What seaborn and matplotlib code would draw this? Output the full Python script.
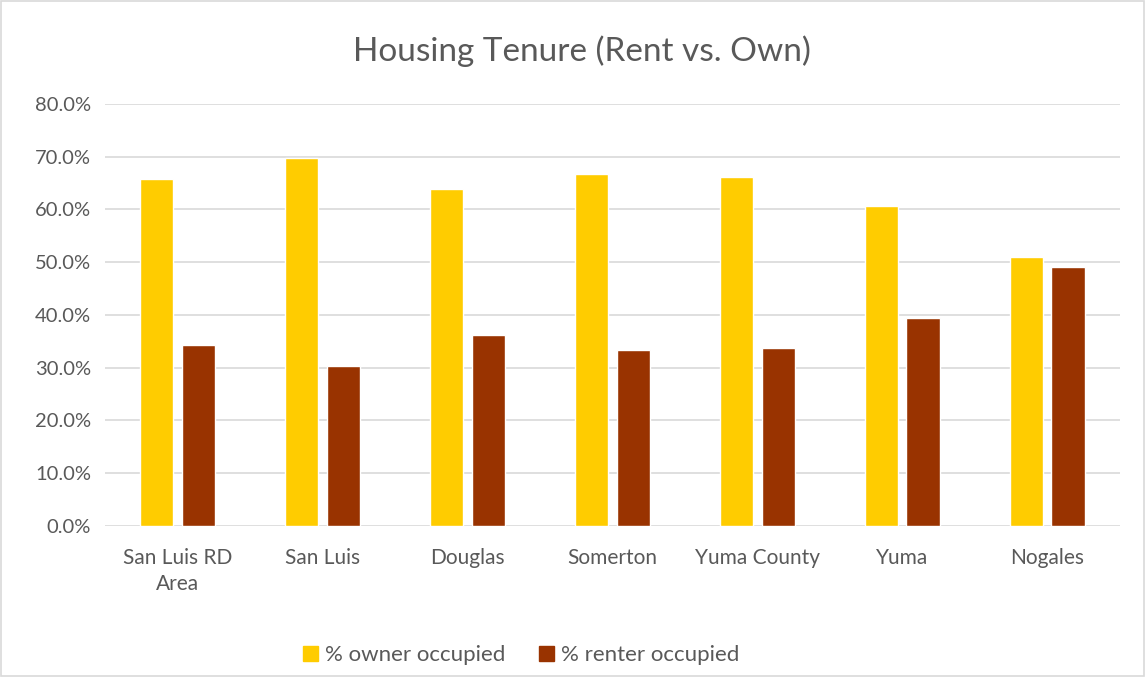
import matplotlib
matplotlib.use("Agg")
import matplotlib.pyplot as plt
import matplotlib.patches as mpatches
import seaborn as sns
import pandas as pd

# Values (percent)
places = ["San Luis RD\nArea", "San Luis", "Douglas", "Somerton", "Yuma County", "Yuma", "Nogales"]
owner_pct = [65.8, 69.7, 63.8, 66.7, 66.2, 60.6, 51.0]
renter_pct = [34.2, 30.3, 36.2, 33.3, 33.7, 39.4, 49.0]
series = ["% owner occupied", "% renter occupied"]
colors = ["#FFCC00", "#993300"]
y_ticks = [0, 10, 20, 30, 40, 50, 60, 70, 80]

df = pd.DataFrame({
    "place": places * 2,
    "series": [series[0]] * len(places) + [series[1]] * len(places),
    "value": owner_pct + renter_pct,
})

sns.set_theme(style="white")
plt.rcParams["font.family"] = ["Lato", "DejaVu Sans"]
text_color = "#595959"

fig = plt.figure(figsize=(11.45, 6.77), dpi=100)
ax = fig.add_axes([0.0917, 0.2233, 0.978 - 0.0917, 0.8464 - 0.2233])

sns.barplot(data=df, x="place", y="value", hue="series", palette=colors,
            width=0.57, gap=0.2, ax=ax, saturation=1, legend=True)

ax.set_ylim(0, 80)
ax.set_yticks(y_ticks)
ax.set_yticklabels([f"{t:.1f}%" for t in y_ticks])
ax.set_xlim(-0.5, len(places) - 0.5)
ax.grid(axis="y", color="#D9D9D9", linewidth=1.2)
ax.set_axisbelow(True)
for s in ax.spines.values():
    s.set_visible(False)
ax.tick_params(axis="both", length=0, labelcolor=text_color)
ax.tick_params(axis="x", pad=16, labelsize=15)
ax.tick_params(axis="y", pad=10, labelsize=14.5)
for lbl in ax.get_xticklabels():
    lbl.set_linespacing(1.35)
ax.set_xlabel("")
ax.set_ylabel("")

fig.text(0.508, 0.925, "Housing Tenure (Rent vs. Own)", ha="center", va="center",
         fontsize=24, color=text_color)

handles = [mpatches.Patch(color=c, label=l) for c, l in zip(colors, series)]
ax.legend(handles=handles, loc="center", bbox_to_anchor=(0.455, 0.032),
          bbox_transform=fig.transFigure, ncol=2, frameon=False,
          fontsize=16, labelcolor=text_color, handlelength=0.7, handleheight=0.7,
          handletextpad=0.3, columnspacing=1.5)

fig.patches.append(mpatches.Rectangle((0.001, 0.001), 0.998, 0.997, transform=fig.transFigure,
                                      fill=False, edgecolor="#D9D9D9", linewidth=1.2))

fig.savefig("out.png", dpi=100)
